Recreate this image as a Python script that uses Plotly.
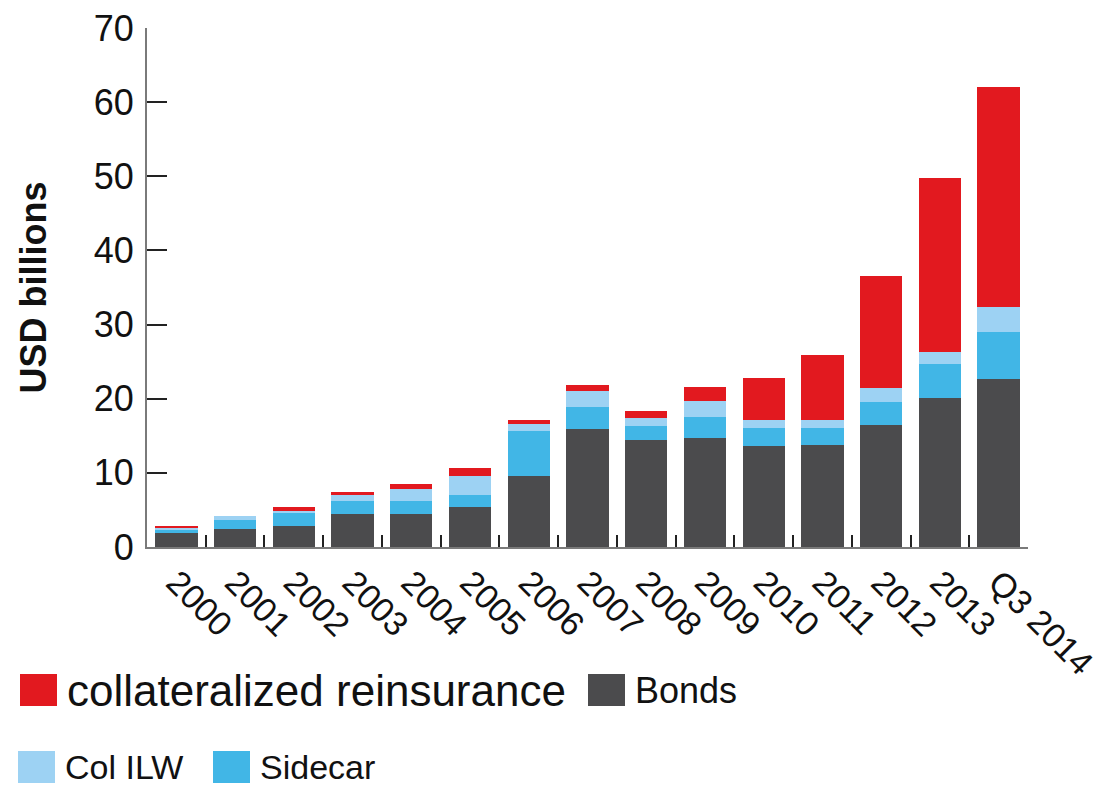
import plotly.graph_objects as go

years = ["2000", "2001", "2002", "2003", "2004", "2005", "2006", "2007",
         "2008", "2009", "2010", "2011", "2012", "2013", "Q3 2014"]

bonds = [1.85, 2.4, 2.85, 4.4, 4.4, 5.45, 9.6, 15.9, 14.45, 14.7, 13.6, 13.8, 16.45, 20.15, 22.6]
sidecar = [0.5, 1.25, 1.7, 1.85, 1.85, 1.6, 6.1, 3.0, 1.85, 2.9, 2.45, 2.25, 3.15, 4.5, 6.4]
col_ilw = [0.2, 0.55, 0.35, 0.75, 1.6, 2.5, 0.85, 2.15, 1.1, 2.05, 1.1, 1.05, 1.9, 1.65, 3.4]
collat = [0.3, 0.0, 0.55, 0.45, 0.65, 1.1, 0.55, 0.85, 1.0, 1.95, 5.6, 8.85, 15.0, 23.45, 29.6]

RED = "#e2191f"
DARK = "#4b4b4d"
SIDE = "#41b6e6"
ILW = "#9dd2f3"
FONT = "Arial, Liberation Sans, sans-serif"

fig = go.Figure()
for name, vals, col in [("Bonds", bonds, DARK), ("Sidecar", sidecar, SIDE),
                        ("Col ILW", col_ilw, ILW), ("collateralized reinsurance", collat, RED)]:
    fig.add_trace(go.Bar(x=years, y=vals, name=name, marker_color=col,
                         marker_line_width=0, showlegend=False))

# the page body adds an 8px offset, so the figure is sized to fit inside the window
OFF = 8
W, H = 1105 - OFF, 787 - OFF
L, R, T, B = 147 - OFF, 77, 28 - OFF, 240
pw, ph = W - L - R, H - T - B

# legend drawn by hand so swatches and text sizes match the original
legend_items = [
    ("collateralized reinsurance", RED, 20, 690, 44),
    ("Bonds", DARK, 588, 690, 36),
    ("Col ILW", ILW, 18, 767, 34),
    ("Sidecar", SIDE, 213, 767, 34),
]
for label, col, px, py, fs in legend_items:
    px, py = px - OFF, py - OFF
    yc = (H - B - py) / ph
    fig.add_shape(type="rect", xref="paper", yref="paper",
                  x0=(px - L) / pw, x1=(px + 37 - L) / pw,
                  y0=yc - 16 / ph, y1=yc + 16 / ph,
                  fillcolor=col, line_width=0)
    fig.add_annotation(text=label, xref="paper", yref="paper",
                       x=(px + 45 - L) / pw, y=yc, xanchor="left", yanchor="middle",
                       showarrow=False, font=dict(size=fs, color="#111", family=FONT))

fig.update_layout(
    barmode="stack",
    bargap=0.28,
    width=W, height=H,
    margin=dict(l=L, r=R, t=T, b=B),
    plot_bgcolor="white",
    paper_bgcolor="white",
    font=dict(family=FONT, color="#111"),
    xaxis=dict(
        range=[-0.5, 14.5], automargin=False,
        showline=True, linecolor="#7a7a7a", linewidth=2,
        ticks="inside", tickson="boundaries", ticklen=12, tickcolor="#222", tickwidth=2,
        tickangle=45, tickfont=dict(size=34), ticklabeloverflow="allow",
        showgrid=False,
    ),
    yaxis=dict(
        range=[0, 70], dtick=10, automargin=False,
        showline=True, linecolor="#7a7a7a", linewidth=2,
        ticks="inside", ticklen=20, tickcolor="#222", tickwidth=1.5,
        tickfont=dict(size=36), ticklabelstandoff=4, ticklabeloverflow="allow",
        showgrid=False, zeroline=False,
        title=dict(text="<b>USD billions</b>", font=dict(size=36), standoff=36),
    ),
)

fig.write_html("out.html")
